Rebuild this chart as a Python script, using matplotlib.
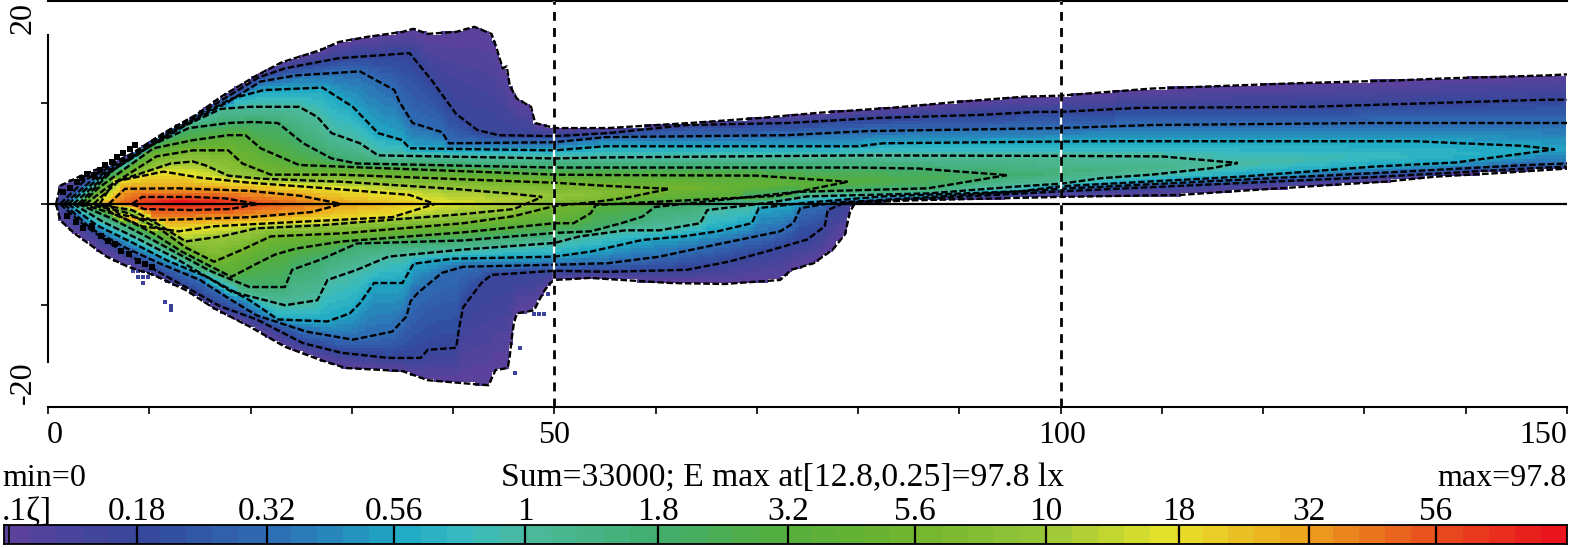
import numpy as np
import matplotlib
matplotlib.use("Agg")
import matplotlib.pyplot as plt
from matplotlib.colors import LinearSegmentedColormap, Normalize

plt.rcParams['font.family'] = ['Liberation Serif', 'DejaVu Serif']

W, H = 1569, 548

# Isolux levels (lx)
levels = [0.1, 0.18, 0.32, 0.56, 1, 1.8, 3.2, 5.6, 10, 18, 32, 56]
bar_labels = ["0.18", "0.32", "0.56", "1", "1.8", "3.2", "5.6", "10", "18", "32", "56"]

# Ridge of the beam: position and illuminance
ridge_x = [0.8, 1.2, 2, 2.5, 3, 3.3, 3.7, 4.5, 5.1, 6, 8.3, 12.8, 20.7, 29, 38.2, 48.8, 61.4, 79, 94.7, 117.5, 148.8, 150]
ridge_y = [0, 0, 0, 0, 0, 0, 0, 0, 0, 0, 0.1, 0.25, 0, 0, 0, 0.7, 1.5, 2.2, 2.85, 4.05, 5.4, 5.5]
ridge_lx = [0.1, 0.18, 0.56, 1, 1.8, 3.2, 5.6, 10, 18, 32, 56, 97.8, 56, 32, 18, 10, 5.6, 3.2, 1.8, 1, 0.56, 0.54]

# Isolux lines, (x, y) in m, side above the ridge
up_01 = [(0.8,0),(1.2,1.8),(3.3,2.8),(6.5,4.1),(8.3,5),(11.4,7),(14.6,8.8),(17.1,10.6),(20.6,12.7),(23.1,14),(26.9,15.2),(28.7,16),(31.5,16.5),(35,17),(36.1,17.3),(37.5,16.8),(40.3,17),(42.1,17.5),(43.8,16.8),(44.2,15.7),(44.9,13.4),(45.3,13.6),(45.6,11.7),(46.3,10.4),(47.7,9.6),(48.1,8),(50,7.5),(55.3,7.5),(63.4,8),(70.4,8.5),(76,9),(83.3,9.5),(90,10.1),(96.4,10.6),(100,10.7),(102.5,10.9),(109,11.4),(122.5,11.9),(133,12.2),(137.8,12.4),(148,12.7),(150,12.8)]
up_018 = [(1.2,0),(3.7,2.4),(7.4,4.3),(11.3,6.8),(14.8,8.8),(17.4,10.4),(20.8,12.5),(23.4,13.4),(28.7,14.4),(35.7,14.9),(37.9,12.2),(40.3,8.9),(42.4,7.3),(44.5,6.8),(50,6.7),(55.3,7),(63.1,7.8),(73,8),(82,8.5),(92,8.8),(97.7,9.1),(100,9.1),(107.8,9.5),(124.5,9.6),(134.5,9.9),(141,10.1),(148,10.3),(150,10.3)]
up_032 = [(1.6,0),(4.4,2.4),(7.9,4.4),(11.4,6.5),(15,8.6),(17.8,10.1),(21,12.1),(24.5,12.7),(30.8,13.1),(34.2,11.25),(34.7,10.1),(36,8),(38.9,7.1),(39.6,6),(50,6.1),(55,6.6),(73,6.8),(80.8,7.2),(100,7.5),(109,7.8),(131,8),(150,8)]
up_056 = [(2,0),(5.1,2.6),(8.6,4.7),(12.1,7.1),(15.3,8.9),(18.1,10.4),(21.3,11.25),(27.1,11.5),(30.1,9.6),(32.6,7),(35,6.3),(35.7,5.5),(50,5.3),(55,5.7),(80,5.7),(82.5,6),(103,6.2),(135,6.2),(139.5,6),(145.5,5.75),(148.8,5.4)]
up_1 = [(2.5,0),(5.8,2.9),(9.3,5.3),(13.2,7.6),(17.1,9.4),(19.9,9.6),(24.8,9.6),(26.6,8.6),(28,7),(30.8,6),(32.6,4.8),(50,4.5),(55,4.6),(80,4.8),(100,4.75),(110,4.7),(117.5,4.05)]
up_18 = [(3,0),(6.5,3.4),(10,5.7),(13.9,7.5),(17.8,8),(20.2,8.1),(22.7,8),(25.2,6),(28,4.5),(30.5,4),(50,3.6),(55,3.6),(80,3.6),(86,3.5),(94.7,2.85)]
up_32 = [(3.3,0),(5,1.6),(10.4,5.5),(14.3,6.3),(17.8,6.8),(19.5,6.8),(21,5.5),(24.8,3.85),(28.7,3.7),(50,2.9),(55,2.86),(70,2.8),(79,2.2)]
up_56 = [(3.7,0),(5.8,1.6),(10.7,4.7),(14.3,5.3),(17.8,5.3),(19.2,4),(22,2.9),(28.7,2.9),(50,2.1),(55,1.8),(61.4,1.5)]
up_10 = [(4.5,0),(7,2.3),(12.1,4),(14.3,4.2),(15.6,3.8),(17.8,2.8),(21,2.5),(29,2.2),(40,1.5),(46,1),(48.8,0.7)]
up_180 = [(5.1,0),(6.5,2.2),(11.4,3.2),(15,2.6),(19.9,2.1),(26.9,1.6),(35.7,0.9),(38.2,0)]
up_320 = [(6,0),(7.6,1.5),(12.9,1.55),(19.9,1.3),(25,0.8),(29,0)]
up_560 = [(8.3,0),(9.3,0.7),(14.3,0.7),(17.5,0.55),(20.7,0)]

# Same lines, side below the ridge
lo_01 = [(0.8,0),(1.2,-1.6),(2.6,-2.9),(5.8,-5.2),(7.9,-6.2),(10.4,-7),(13.6,-8.5),(16.4,-10.3),(19.9,-12.1),(23.4,-14.1),(26.9,-15.4),(29.4,-16.2),(35,-16.5),(37.5,-17.4),(41,-17.7),(43.5,-17.9),(44.2,-16.4),(45.4,-16.2),(45.6,-15),(45.8,-13.2),(46,-11.8),(46.3,-10.8),(48,-10.5),(48.5,-9.5),(49,-8.6),(49.5,-7.9),(50,-7.5),(51.9,-7.4),(53.5,-7.3),(61.4,-7.8),(66.8,-7.9),(72.3,-7.5),(73.4,-6.5),(75.6,-5.85),(77.5,-4.5),(78.7,-3),(79.2,-0.75),(79.7,0.1),(85,0.35),(100,0.7),(111.8,0.9),(117,1.25),(127,1.9),(132,2.2),(137,2.7),(144,3.1),(150,3.5)]
lo_018 = [(1.2,0),(3.7,-2.2),(7.2,-4.6),(10,-6.2),(13.6,-8.2),(17,-10.1),(20.6,-11.4),(25.2,-13.75),(29,-14.7),(33.6,-15.2),(36.8,-15.2),(37.5,-14.4),(40.3,-14.2),(40.6,-12.2),(41,-10.2),(42.8,-7.8),(43.8,-7),(50,-6.6),(55.3,-6.7),(63.1,-6.5),(67.2,-5.7),(70.9,-4.7),(75,-3.5),(76.7,-2.2),(77,-0.6),(78.6,0.1),(100,1.25),(117.8,2.07),(131,2.66),(146,3.5),(150,3.7)]
lo_032 = [(1.6,0),(4.2,-2.4),(7.6,-4.3),(11.1,-5.9),(15,-7.5),(17.8,-9.3),(20.6,-11),(25.5,-12.6),(30.1,-13.4),(34,-12.6),(35.4,-11.1),(35.8,-9.6),(36.5,-8.8),(38.9,-6.8),(41,-6.2),(50,-6),(55.3,-5.85),(60.4,-5.2),(62.7,-4.7),(66.5,-3.9),(72.3,-2.7),(73.6,-1.9),(74.3,-0.4),(77.4,0.1),(85.8,0.6),(100,1.5),(117.8,2.4),(131,3.05),(146,3.85),(150,4)]
lo_056 = [(2,0),(4.8,-2.1),(8.3,-3.8),(11.8,-5.6),(15.7,-7.2),(19.9,-9.5),(22.7,-11.4),(27.6,-11.6),(29.8,-10.8),(30.8,-9.8),(32.2,-7.8),(35,-7.8),(36.1,-5.9),(40,-5.4),(50,-5.2),(53.6,-4.7),(58.7,-3.55),(62.7,-3.2),(66.1,-2.7),(69.5,-1.9),(70.2,-0.4),(74.6,0.1),(82.4,0.75),(96,1.25),(100,1.75),(117.8,2.7),(131,3.7),(139,4.1),(148.8,5.4)]
lo_1 = [(2.5,0),(5.5,-1.8),(9,-3.5),(12.5,-5.3),(18.1,-8.65),(23.4,-10),(26.6,-9.5),(27.6,-7.5),(30.5,-6.5),(33.6,-5.2),(41,-4.5),(50,-3.85),(52.5,-3.2),(57,-2.6),(60.4,-2.6),(64.4,-1.9),(65.1,-0.6),(71,0.1),(75,0.75),(87,1.05),(96,1.75),(100,2),(104,2.55),(109,2.9),(115,3.55),(117.5,4.05)]
lo_18 = [(3,0),(6.2,-1.4),(9.7,-3.2),(13.2,-5.1),(16,-6.6),(19.9,-8.2),(23.4,-8.2),(24.1,-6.5),(26.9,-5.5),(30.5,-3.9),(41,-3.6),(50,-2.86),(53.6,-2.7),(56.6,-1.9),(58.7,-1.25),(59.9,-0.3),(65.5,0.3),(74,1.2),(86.9,1.55),(94.7,2.85)]
lo_32 = [(3.3,0),(6.9,-1.1),(10.4,-2.9),(13.2,-4.7),(18.1,-7.2),(20.6,-5.9),(22.4,-5),(24.5,-4.4),(29,-3.7),(41,-2.8),(50,-1.9),(51.9,-1.9),(53.6,-0.9),(54.1,-0.1),(59.7,0.2),(72,0.8),(79,2.2)]
lo_56 = [(3.7,0),(7.6,-0.8),(11.1,-2.5),(13.6,-4.3),(16.4,-5.7),(19.2,-4.5),(22,-3.2),(29,-2.9),(41,-1.9),(46,-1.2),(50,-0.2),(54,0.2),(57,0.6),(61.4,1.5)]
lo_10 = [(4.5,0),(8.3,-0.6),(10.7,-1.9),(13.6,-3.7),(17.1,-3.2),(20.6,-2.4),(26.9,-2.1),(41,-1),(46,-0.5),(48.8,0.7)]
lo_180 = [(5.1,0),(6.5,-1),(9.3,-2.2),(12.9,-2.7),(16.4,-2.2),(22,-1.9),(34,-1.3),(38.2,0)]
lo_320 = [(6,0),(7,-1),(10,-1.6),(14,-1.5),(20,-1.3),(26,-0.8),(29,0)]
lo_560 = [(8.3,0),(9.5,-0.5),(14,-0.6),(18,-0.5),(20.7,0)]

upper = [up_01, up_018, up_032, up_056, up_1, up_18, up_32, up_56, up_10, up_180, up_320, up_560]
lower = [lo_01, lo_018, lo_032, lo_056, lo_1, lo_18, lo_32, lo_56, lo_10, lo_180, lo_320, lo_560]

# Loose cells outside the main outline: dark blue ones and the black speckle at the lamp
stray_x = [8.4, 8.9, 9.4, 9.9, 10.4, 8.9, 9.4, 9.9, 9.4, 11.6, 12.1, 12.1, 44, 46.6, 46.1, 48, 48.5, 49, 49.4]
stray_y = [-6.6, -6.6, -6.6, -6.6, -6.6, -7.2, -7.2, -7.2, -7.8, -9.7, -10.1, -10.5, 15.9, -14.2, -16.7, -10.9, -10.9, -10.9, -8.9]
speck_x = [1.5, 2.2, 2.9, 3.4, 3.9, 4.5, 5.1, 5.6, 6.3, 6.8, 7.4, 8.1, 8.6, 1.9, 2.8, 3.5, 4.3, 5.2, 5.9, 6.6, 7.2, 8, 8.9, 9.6, 10.3]
speck_y = [1.2, 1.6, 2.2, 2.6, 3, 2.9, 3.4, 3.9, 4.1, 4.6, 5.0, 5.4, 5.8, -1.2, -1.8, -2.4, -2.2, -3.2, -3.7, -4.0, -4.6, -4.9, -5.6, -5.9, -6.2]

# Colours of the scale bar, position in log10(lx) from 0.1 lx to the maximum
bar_pos = [-1, -0.75, -0.5, -0.25, -0.125, 0, 0.25, 0.5, 0.75, 1, 1.25, 1.5, 1.75, 2]
bar_colors = ["#5a429c", "#35479b", "#2e6db4", "#1fa9c4", "#38bac0", "#4cb99c", "#42ad6e", "#55ae3c",
              "#72b52e", "#97c63a", "#e6e42b", "#eda51e", "#e8521f", "#e9141e"]
cmap = LinearSegmentedColormap.from_list("lux", [((p + 1) / 3, c) for p, c in zip(bar_pos, bar_colors)], N=60)
norm = Normalize(-1, 2)


def px_axes(left, top, right, bottom):
    return fig.add_axes([left / W, 1 - bottom / H, (right - left) / W, (bottom - top) / H])


def px_text(x, y, s, ha="center", size=23):
    fig.text(x / W, 1 - y / H, s, ha=ha, va="baseline", fontsize=size, color="black")


fig = plt.figure(figsize=(W / 100, H / 100), dpi=100)
ax = px_axes(48, 1, 1567, 407)

# Blocky field: in each column the log illuminance goes linearly from line to line
xe = np.arange(0, 150.2, 0.34)
ye = np.arange(-20, 20.2, 0.34)
xc = (xe[:-1] + xe[1:]) / 2
yc = (ye[:-1] + ye[1:]) / 2
field = np.full((len(yc), len(xc)), np.nan)
for j, x in enumerate(xc):
    if x < up_01[0][0]:
        continue
    py = [np.interp(x, ridge_x, ridge_y)]
    pv = [np.interp(x, ridge_x, np.log10(ridge_lx))]
    for lev, up, lo in zip(levels, upper, lower):
        if up[0][0] <= x <= up[-1][0]:
            py.append(np.interp(x, *zip(*up)))
            pv.append(np.log10(lev))
        if lo[0][0] <= x <= lo[-1][0]:
            py.append(np.interp(x, *zip(*lo)))
            pv.append(np.log10(lev))
    order = np.argsort(py)
    py = np.array(py)[order]
    pv = np.array(pv)[order]
    inside = (yc >= py[0]) & (yc <= py[-1])
    field[inside, j] = np.interp(yc[inside], py, pv)

ax.pcolormesh(xe, ye, np.ma.masked_invalid(field), cmap=cmap, norm=norm, shading="flat", rasterized=True)
ax.scatter(stray_x, stray_y, s=9, marker="s", color="#3c4199", linewidths=0, zorder=2)

# Isolux lines
for line in upper + lower:
    xs, ys = zip(*line)
    ax.plot(xs, ys, color="black", lw=1.7, ls=(0, (2.8, 1.1)), zorder=3)
ax.scatter(speck_x, speck_y, s=14, marker="s", color="black", linewidths=0, zorder=3)

# Reference lines
ax.axhline(0, color="black", lw=1.6, zorder=4)
for x in [50, 100]:
    ax.axvline(x, color="white", lw=1.6, zorder=4)
    ax.axvline(x, color="black", lw=2.0, ls=(0, (3.2, 2.6)), zorder=5)

ax.set_xlim(0, 150)
ax.set_ylim(-20.05, 20.05)
ax.spines["right"].set_visible(False)
for side in ["top", "bottom", "left"]:
    ax.spines[side].set_linewidth(1.5)
ax.spines["left"].set_bounds(-15.6, 16.7)
ax.set_xticks(np.arange(0, 151, 10))
ax.set_xticklabels([])
ax.set_yticks([-10, 0, 10])
ax.set_yticklabels([])
ax.tick_params(axis="both", length=5, width=1.2, direction="out")

px_text(47, 443, "0", ha="left")
px_text(554, 443, "50")
px_text(1062, 443, "100")
px_text(1567, 443, "150", ha="right")
fig.text(38 / W, 1 - 18 / H, "20", rotation=90, ha="right", va="center", fontsize=23)
fig.text(38 / W, 1 - 383 / H, "-20", rotation=90, ha="right", va="center", fontsize=23)

px_text(2, 486, "min=0", ha="left")
px_text(783, 486, "Sum=33000; E max at[12.8,0.25]=97.8 lx", size=24.2)
px_text(1567, 486, "max=97.8", ha="right")

# Scale bar
cax = px_axes(4, 525, 1567, 544)
steps = np.linspace(-1.0, 2.0, 61).reshape(1, -1)
cax.pcolormesh(steps, [0, 1], ((steps[:, :-1] + steps[:, 1:]) / 2), cmap=cmap, norm=norm, rasterized=True)
cax.set_xlim(-1.0, 2.0)
cax.set_ylim(0, 1)
cax.set_xticks([])
cax.set_yticks([])
for s in cax.spines.values():
    s.set_linewidth(1.3)
for i, lab in enumerate(bar_labels):
    pos = np.log10(levels[i + 1])
    cax.axvline(pos, color="black", lw=1.6)
    px_text(4 + (pos + 1) / 3 * 1563, 520, lab, size=24)
cax.axvline(-0.99, color="black", lw=1.2)
px_text(2, 520, ".1ζ]", ha="left", size=24)

fig.savefig("out.png", dpi=100)
